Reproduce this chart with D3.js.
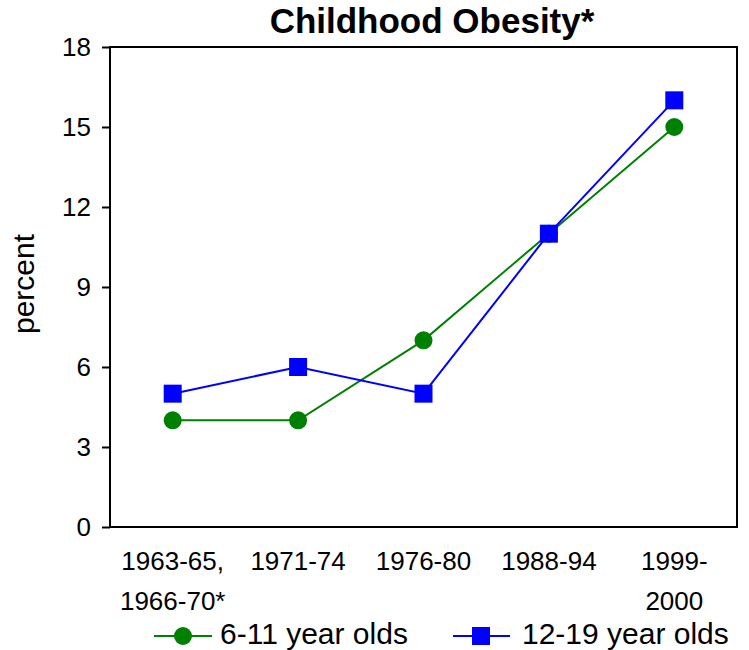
<!DOCTYPE html>
<html>
<head>
<meta charset="utf-8">
<script src="https://cdn.jsdelivr.net/npm/d3@7"></script>
<style>
  body { margin: 0; background: #fff; }
  text { font-family: Arial, "Liberation Sans", sans-serif; fill: #000; }
</style>
</head>
<body>
<script>
// data
var periods = ["1963-65, 1966-70*", "1971-74", "1976-80", "1988-94", "1999- 2000"];
var periodLines = [["1963-65,", "1966-70*"], ["1971-74"], ["1976-80"], ["1988-94"], ["1999-", "2000"]];
var kids = [4, 4, 7, 11, 15];     // 6-11 year olds
var teens = [5, 6, 5, 11, 16];    // 12-19 year olds
var yTicks = [0, 3, 6, 9, 12, 15, 18];

var width = 749, height = 650,
    margin = {top: 47, right: 12, bottom: 123, left: 110},
    w = width - margin.left - margin.right,
    h = height - margin.top - margin.bottom;

var svg = d3.select("body").append("svg")
    .attr("width", width)
    .attr("height", height);

var g = svg.append("g")
    .attr("transform", "translate(" + margin.left + "," + margin.top + ")");

var x = d3.scaleBand().domain(periods).range([0, w]);
var y = d3.scaleLinear().domain([0, 18]).range([h, 0]);

// frame
g.append("rect")
    .attr("width", w).attr("height", h)
    .attr("fill", "none").attr("stroke", "#000").attr("stroke-width", 2);

// y axis
var yAxis = g.append("g")
    .call(d3.axisLeft(y).tickValues(yTicks).tickSize(8).tickPadding(11));
yAxis.select(".domain").remove();
yAxis.selectAll("line").attr("stroke-width", 2);
yAxis.selectAll("text").style("font-size", "26px").attr("font-family", null);

// x labels
var xl = g.append("g").attr("transform", "translate(0," + h + ")");
periods.forEach(function(p, i) {
  var t = xl.append("text")
      .attr("text-anchor", "middle")
      .attr("x", x(p) + x.bandwidth() / 2)
      .attr("y", 43)
      .style("font-size", "26px");
  periodLines[i].forEach(function(s, j) {
    t.append("tspan").attr("x", x(p) + x.bandwidth() / 2).attr("dy", j ? 40 : 0).text(s);
  });
});

// title and axis label
svg.append("text")
    .attr("x", 432).attr("y", 33)
    .attr("text-anchor", "middle")
    .style("font-size", "35px").style("font-weight", "bold")
    .text("Childhood Obesity*");

svg.append("text")
    .attr("transform", "translate(34,284) rotate(-90)")
    .attr("text-anchor", "middle")
    .style("font-size", "30px")
    .text("percent");

var cx = function(d, i) { return x(periods[i]) + x.bandwidth() / 2; };
var line = d3.line().x(cx).y(function(d) { return y(d); });

g.append("path").datum(kids)
    .attr("d", line).attr("fill", "none").attr("stroke", "#008000").attr("stroke-width", 2);
g.append("path").datum(teens)
    .attr("d", line).attr("fill", "none").attr("stroke", "#0000ff").attr("stroke-width", 2);

g.selectAll(".kid").data(kids).enter().append("circle")
    .attr("cx", cx).attr("cy", function(d) { return y(d); })
    .attr("r", 9).attr("fill", "#008000");

g.selectAll(".teen").data(teens).enter().append("rect")
    .attr("x", function(d, i) { return cx(d, i) - 9; })
    .attr("y", function(d) { return y(d) - 9; })
    .attr("width", 18).attr("height", 18).attr("fill", "#0000ff");

// legend
var legend = svg.append("g");
var lg1 = legend.append("g").attr("transform", "translate(154,636)");
lg1.append("line").attr("x1", 0).attr("x2", 58).attr("stroke", "#008000").attr("stroke-width", 2);
lg1.append("circle").attr("cx", 29).attr("r", 9).attr("fill", "#008000");
lg1.append("text").attr("x", 66).attr("y", 8).style("font-size", "30px").text("6-11 year olds");

var lg2 = legend.append("g").attr("transform", "translate(453,636)");
lg2.append("line").attr("x1", 0).attr("x2", 57).attr("stroke", "#0000ff").attr("stroke-width", 2);
lg2.append("rect").attr("x", 19).attr("y", -9).attr("width", 18).attr("height", 18).attr("fill", "#0000ff");
lg2.append("text").attr("x", 69).attr("y", 8).style("font-size", "30px").text("12-19 year olds");
</script>
</body>
</html>
